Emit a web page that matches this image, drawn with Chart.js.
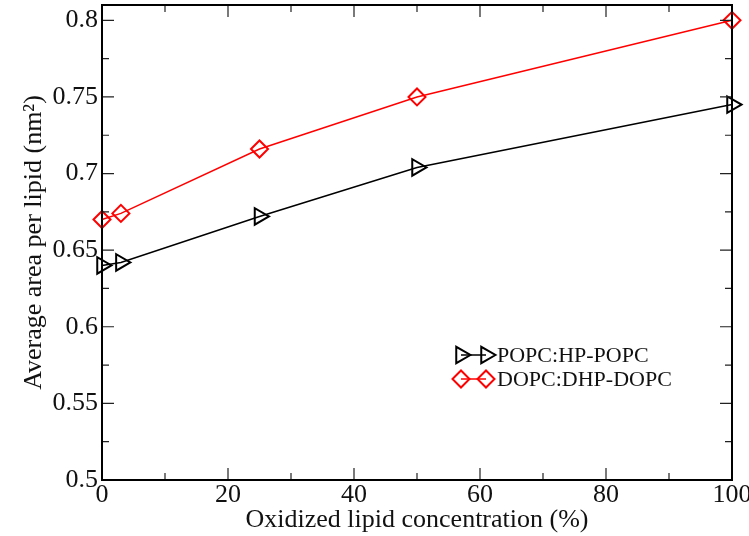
<!DOCTYPE html>
<html><head><meta charset="utf-8">
<script src="https://cdn.jsdelivr.net/npm/chart.js@4.4.1/dist/chart.umd.min.js"></script>
<style>html,body{margin:0;padding:0;background:#fff}#wrap{width:749px;height:536px}</style>
</head><body><div id="wrap"><canvas id="c" width="749" height="536"></canvas></div>
<script>
const concentration = [0, 3, 25, 50, 100];
const popcArea = [0.640, 0.642, 0.672, 0.704, 0.745];
const dopcArea = [0.670, 0.674, 0.716, 0.750, 0.800];
const seriesNames = ['POPC:HP-POPC', 'DOPC:DHP-DOPC'];
const xTitle = 'Oxidized lipid concentration (%)';
const yTitle = 'Average area per lipid (nm²)';
const xMajor = [0, 20, 40, 60, 80, 100];
const xMinor = [10, 30, 50, 70, 90];
const yMajor = [0.5, 0.55, 0.6, 0.65, 0.7, 0.75, 0.8];
const yMinor = [0.525, 0.575, 0.625, 0.675, 0.725, 0.775];

const FONT = 'Liberation Serif';
const pts = (ys) => concentration.map((x, i) => ({x, y: ys[i]}));
const noPad = s => { s.paddingTop = 0; s.paddingBottom = 0; s.paddingLeft = 0; s.paddingRight = 0; };

const frameTicks = {
  id: 'frameTicks',
  afterDatasetsDraw(chart) {
    const {ctx, chartArea: a, scales: {x, y}} = chart;
    ctx.save();
    ctx.strokeStyle = '#222';
    ctx.lineWidth = 1.2;
    const tick = (px, len, horiz) => {
      ctx.beginPath();
      if (horiz) {
        ctx.moveTo(px, a.bottom); ctx.lineTo(px, a.bottom - len);
        ctx.moveTo(px, a.top); ctx.lineTo(px, a.top + len);
      } else {
        ctx.moveTo(a.left, px); ctx.lineTo(a.left + len, px);
        ctx.moveTo(a.right, px); ctx.lineTo(a.right - len, px);
      }
      ctx.stroke();
    };
    xMajor.forEach(v => tick(x.getPixelForValue(v), 12, true));
    xMinor.forEach(v => tick(x.getPixelForValue(v), 7, true));
    yMajor.forEach(v => tick(y.getPixelForValue(v), 12, false));
    yMinor.forEach(v => tick(y.getPixelForValue(v), 7, false));
    ctx.strokeStyle = '#000';
    ctx.lineWidth = 2;
    ctx.strokeRect(a.left, a.top, a.right - a.left, a.bottom - a.top);
    ctx.restore();
  }
};

const grLegend = {
  id: 'grLegend',
  afterDraw(chart) {
    const {ctx} = chart;
    ctx.save();
    const items = [
      {ds: chart.data.datasets[0], y: 355},
      {ds: chart.data.datasets[1], y: 379}
    ];
    items.forEach(it => {
      const ds = it.ds;
      ctx.strokeStyle = ds.borderColor;
      ctx.lineWidth = 1.5;
      ctx.beginPath(); ctx.moveTo(461, it.y); ctx.lineTo(486, it.y); ctx.stroke();
      [461, 486].forEach(px => {
        ctx.fillStyle = 'rgba(0,0,0,0)';
        ctx.strokeStyle = ds.borderColor;
        ctx.lineWidth = 2;
        Chart.helpers.drawPoint(ctx, {
          pointStyle: ds.pointStyle, rotation: ds.pointRotation || 0,
          radius: ds.pointRadius, borderWidth: 2
        }, px, it.y);
      });
      ctx.fillStyle = '#111';
      ctx.font = '22px "' + FONT + '"';
      ctx.textBaseline = 'middle';
      ctx.fillText(ds.label, 497, it.y + 1);
    });
    ctx.restore();
  }
};

new Chart(document.getElementById('c'), {
  type: 'scatter',
  data: {
    datasets: [
      {label: seriesNames[0], data: pts(popcArea), showLine: true,
       borderColor: '#000', backgroundColor: 'rgba(0,0,0,0)', borderWidth: 1.5,
       pointStyle: 'triangle', pointRotation: 90, pointRadius: 9.5,
       pointBorderWidth: 2, pointBorderColor: '#000', pointBackgroundColor: 'rgba(0,0,0,0)', clip: false},
      {label: seriesNames[1], data: pts(dopcArea), showLine: true,
       borderColor: '#ff0000', backgroundColor: 'rgba(0,0,0,0)', borderWidth: 1.5,
       pointStyle: 'rectRot', pointRadius: 8.5,
       pointBorderWidth: 2, pointBorderColor: '#ff0000', pointBackgroundColor: 'rgba(0,0,0,0)', clip: false}
    ]
  },
  options: {
    responsive: false, animation: false, devicePixelRatio: 1,
    layout: {autoPadding: false, padding: {left: 0, top: 5, right: 17, bottom: 0}},
    plugins: {legend: {display: false}, tooltip: {enabled: false}},
    scales: {
      x: {
        type: 'linear', min: 0, max: 100,
        afterFit: s => { s.height = 56; noPad(s); },
        afterBuildTicks: s => { s.ticks = xMajor.map(v => ({value: v})); },
        grid: {display: false, drawTicks: false},
        border: {display: false},
        ticks: {color: '#111', font: {family: FONT, size: 26}, padding: 0, maxRotation: 0,
                callback: v => String(v)},
        title: {display: true, text: xTitle, color: '#111', font: {family: FONT, size: 26}, padding: {top: 0, bottom: 0}}
      },
      y: {
        type: 'linear', min: 0.5, max: 0.81,
        afterFit: s => { s.width = 102; noPad(s); },
        afterBuildTicks: s => { s.ticks = yMajor.map(v => ({value: v})); },
        grid: {display: false, drawTicks: false},
        border: {display: false},
        ticks: {color: '#111', font: {family: FONT, size: 26}, padding: 4,
                callback: v => String(Math.round(v * 1000) / 1000)},
        title: {display: true, text: yTitle, color: '#111', font: {family: FONT, size: 26}, padding: {top: 19, bottom: 0}}
      }
    }
  },
  plugins: [frameTicks, grLegend]
});
</script></body></html>
